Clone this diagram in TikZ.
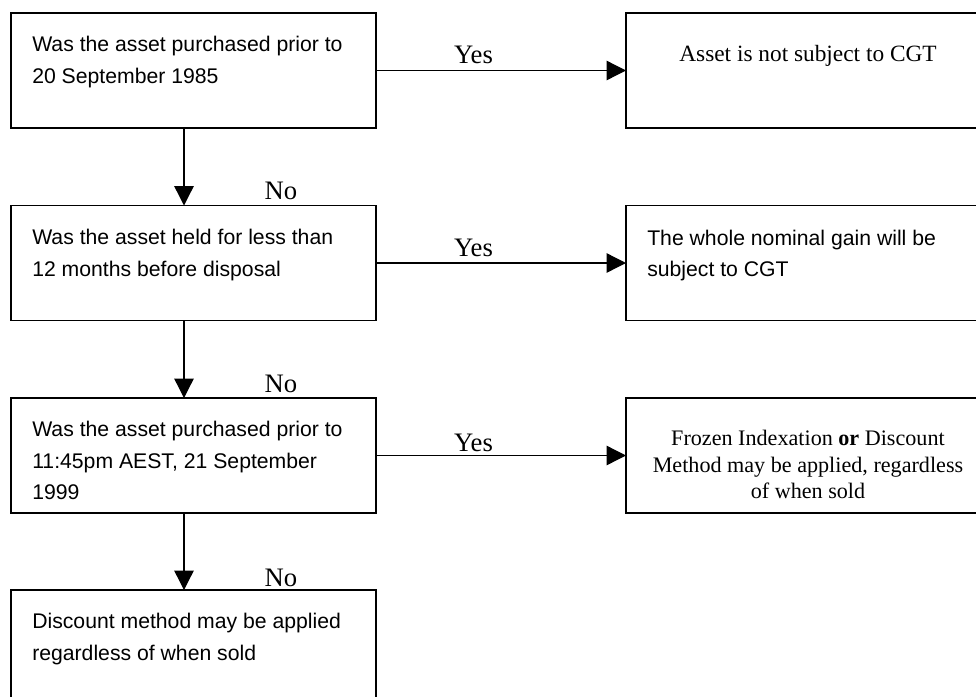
\documentclass[tikz,border=0pt]{standalone}
\usepackage{fontspec}
\setmainfont{Liberation Serif}
\newfontfamily\arialf{Liberation Sans}
\usetikzlibrary{arrows.meta}
\begin{document}
\begin{tikzpicture}[x=0.75pt,y=-0.75pt,
  box/.style={draw,line width=1pt,rectangle,inner sep=0pt,outer sep=0pt,anchor=north west,minimum width=273.75pt,minimum height=86.25pt},
  sans/.style={font=\arialf\fontsize{15.9}{19}\selectfont,inner sep=0pt,anchor=base west},
  serifc/.style={inner sep=0pt,anchor=base},
  lab/.style={font=\fontsize{20}{24}\selectfont,inner sep=0pt,anchor=base},
  arr/.style={line width=1pt,-{Triangle[length=14.5pt,width=14.5pt]}}]
\useasboundingbox (0,0) rectangle (976,697);
\clip (0,0) rectangle (976,697);
\fill[white] (0,0) rectangle (976,697);

% left column boxes
\node[box] (b1) at (11,13) {};
\node[box] (b2) at (11,205.5) {};
\node[box] (b3) at (11,398) {};
\node[box,minimum height=92pt] (b4) at (11,590) {};
% right column boxes
\node[box,minimum width=273pt] (r1) at (626,13) {};
\node[box,minimum width=273pt] (r2) at (626,205.5) {};
\node[box,minimum width=273pt] (r3) at (626,398) {};

% texts left
\node[sans] (t1a) at (32,51.5) {Was the asset purchased prior to};
\node[sans] (t1b) at (32,83.2) {20 September 1985};
\node[sans] (t2a) at (32,244.5) {Was the asset held for less than};
\node[sans] (t2b) at (32,276.2) {12 months before disposal};
\node[sans] (t3a) at (32,436.5) {Was the asset purchased prior to};
\node[sans] (t3b) at (32,468.2) {11:45pm AEST, 21 September};
\node[sans] (t3c) at (32,499.9) {1999};
\node[sans] (t4a) at (32,628.5) {Discount method may be applied};
\node[sans] (t4b) at (32,660.2) {regardless of when sold};

% texts right
\node[serifc,font=\fontsize{17.5}{21}\selectfont] (u1) at (808,61.7) {Asset is not subject to CGT};
\node[sans] (u2a) at (647,245) {The whole nominal gain will be};
\node[sans] (u2b) at (647,276) {subject to CGT};
\node[serifc,font=\fontsize{16.6}{20}\selectfont] (u3a) at (808,445.5) {Frozen Indexation \textbf{or} Discount};
\node[serifc,font=\fontsize{16.6}{20}\selectfont] (u3b) at (808,472) {Method may be applied, regardless};
\node[serifc,font=\fontsize{16.6}{20}\selectfont] (u3c) at (808,498.3) {of when sold};

% connectors
\coordinate (ax) at (184,0);
\draw[arr] (b1.south -| ax) -- (b2.north -| ax);
\draw[arr] (b2.south -| ax) -- (b3.north -| ax);
\draw[arr] (b3.south -| ax) -- (b4.north -| ax);
\draw[arr] (b1.east) -- (r1.west);
\draw[arr] (b2.east) -- (r2.west);
\draw[arr] (b3.east) -- (r3.west);

% labels
\node[lab] (y1) at (473.5,63.3) {Yes};
\node[lab] (y2) at (473.5,256.7) {Yes};
\node[lab] (y3) at (473.5,451.5) {Yes};
\node[lab] (n1) at (281,199) {No};
\node[lab] (n2) at (281,392.5) {No};
\node[lab] (n3) at (281,586) {No};
\end{tikzpicture}
\end{document}
